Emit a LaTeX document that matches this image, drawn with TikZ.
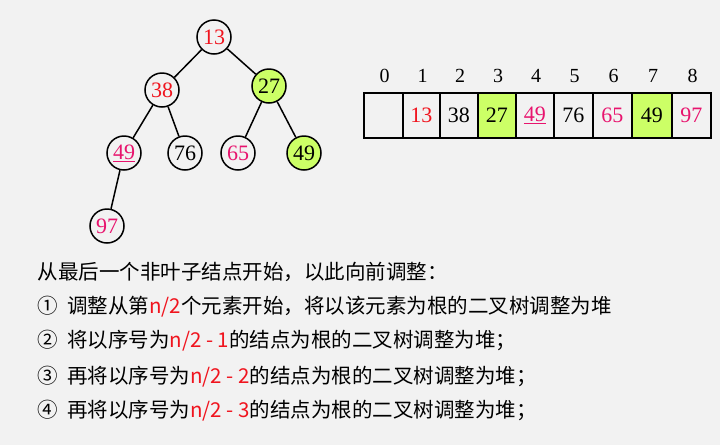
\documentclass[tikz,border=0pt]{standalone}
\usepackage{fontspec}
\setmainfont{Liberation Serif}
\newfontfamily\cjk{Noto Sans CJK SC}
\definecolor{bg}{HTML}{F2F2F2}
\definecolor{gr}{HTML}{CCFF66}
\definecolor{rd}{HTML}{F0141E}
\definecolor{pk}{HTML}{E8146E}
\begin{document}
\begin{tikzpicture}[x=1pt,y=-1pt,
 tn/.style={circle,draw,line width=1.5pt,minimum size=34pt,inner sep=0pt,font=\fontsize{22}{22}\selectfont},
 cell/.style={draw,line width=1.5pt,minimum height=45pt,inner sep=0pt,anchor=north west,font=\fontsize{22}{22}\selectfont},
 idx/.style={font=\fontsize{20}{20}\selectfont},
 ln/.style={anchor=west,font=\cjk\fontsize{20.5}{20.5}\selectfont}]
\fill[bg] (0,0) rectangle (720,445);
\node[tn,text=rd] (a) at (214,37) {13};
\node[tn,text=rd] (b) at (162,90) {38};
\node[tn,fill=gr] (c) at (269,86) {27};
\node[tn,text=pk] (d) at (124,153) {\underline{49}};
\node[tn] (e) at (185,153) {76};
\node[tn,text=pk] (f) at (238,153) {65};
\node[tn,fill=gr] (g) at (304,153) {49};
\node[tn,text=pk] (h) at (107,226) {97};
\draw[line width=1.5pt] (a)--(b) (a)--(c) (b)--(d) (b)--(e) (c)--(f) (c)--(g) (d)--(h);
\foreach \i/\x/\w/\t/\c/\f in {0/363/39//black/bg,1/402/37/13/rd/bg,2/439/38/38/black/bg,3/477/38/27/black/gr,4/515/38/\underline{49}/pk/bg,5/553/39/76/black/bg,6/592/39/65/pk/bg,7/631/40/49/black/gr,8/671/39/97/pk/bg}{
 \node[cell,minimum width=\w pt,fill=\f,text=\c] (c\i) at (\x,92) {\t};
 \node[idx] (i\i) at (\x+\w/2+2,76) {\i};
}
\node[ln] (l1) at (34,272) {从最后一个非叶子结点开始，以此向前调整：};
\node[ln] (l2) at (34,307) {①\ \ 调整从第{\color{rd}n/2}个元素开始，将以该元素为根的二叉树调整为堆};
\node[ln] (l3) at (34,341) {②\ \ 将以序号为{\color{rd}n/2 - 1}的结点为根的二叉树调整为堆；};
\node[ln] (l4) at (34,377) {③\ \ 再将以序号为{\color{rd}n/2 - 2}的结点为根的二叉树调整为堆；};
\node[ln] (l5) at (34,411) {④\ \ 再将以序号为{\color{rd}n/2 - 3}的结点为根的二叉树调整为堆；};
\end{tikzpicture}
\end{document}
